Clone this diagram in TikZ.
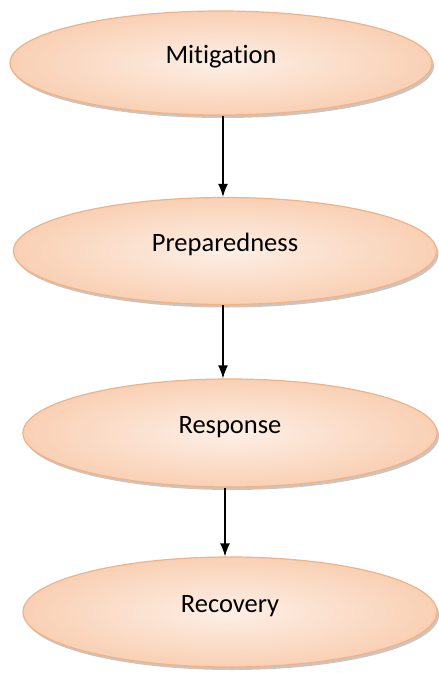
\documentclass[tikz,border=0pt]{standalone}
\usepackage{fontspec}
\setmainfont[Ligatures=NoCommon]{Carlito}
\usetikzlibrary{shapes.geometric,shadows,arrows.meta}

\definecolor{ccpeachline}{RGB}{244,177,131}
\definecolor{ccpeachout}{RGB}{249,208,180}
\definecolor{ccpeachin}{RGB}{253,239,230}

\tikzset{
  phase/.style={ellipse, draw=ccpeachline, line width=1.2pt,
    inner color=ccpeachin, outer color=ccpeachout,
    drop shadow={opacity=0.45, shadow xshift=2pt, shadow yshift=-3pt},
    inner sep=0pt, text height=0pt, text depth=0pt,
    font=\fontsize{26.5}{30}\selectfont},
  flow/.style={line width=1.4pt, -{Latex[length=13pt,width=10pt]}}
}

\begin{document}
\begin{tikzpicture}[x=1pt,y=1pt]

  % Bounding box of the scheme
  \useasboundingbox (0,0) rectangle (439,-673);

  %%%%%%%%%%%%%%%%%%%%%%%%%%%%%%%%% Phases %%%%%%%%%%%%%%%%%%%%%%%%%%%%%%%%%%%%
  \draw (221,-63) node[phase, minimum width=422pt, minimum height=104pt] (mitig) {Mitigation} ;
  \draw (225,-251) node[phase, minimum width=423pt, minimum height=107pt] (prep) {Preparedness} ;
  \draw (230,-433) node[phase, minimum width=414pt, minimum height=108pt] (resp) {Response} ;
  \draw (230,-612) node[phase, minimum width=414pt, minimum height=110pt] (recov) {Recovery} ;

  %%%%%%%%%%%%%%%%%%%%%%%%%%%%%%%%% Arrows %%%%%%%%%%%%%%%%%%%%%%%%%%%%%%%%%%%%
  \coordinate (axis1) at (223,0) ;
  \coordinate (axis2) at (225,0) ;
  \draw[flow] (mitig.south -| axis1) -- (prep.north -| axis1) ;
  \draw[flow] (prep.south -| axis1) -- (resp.north -| axis1) ;
  \draw[flow] (resp.south -| axis2) -- (recov.north -| axis2) ;

\end{tikzpicture}
\end{document}
